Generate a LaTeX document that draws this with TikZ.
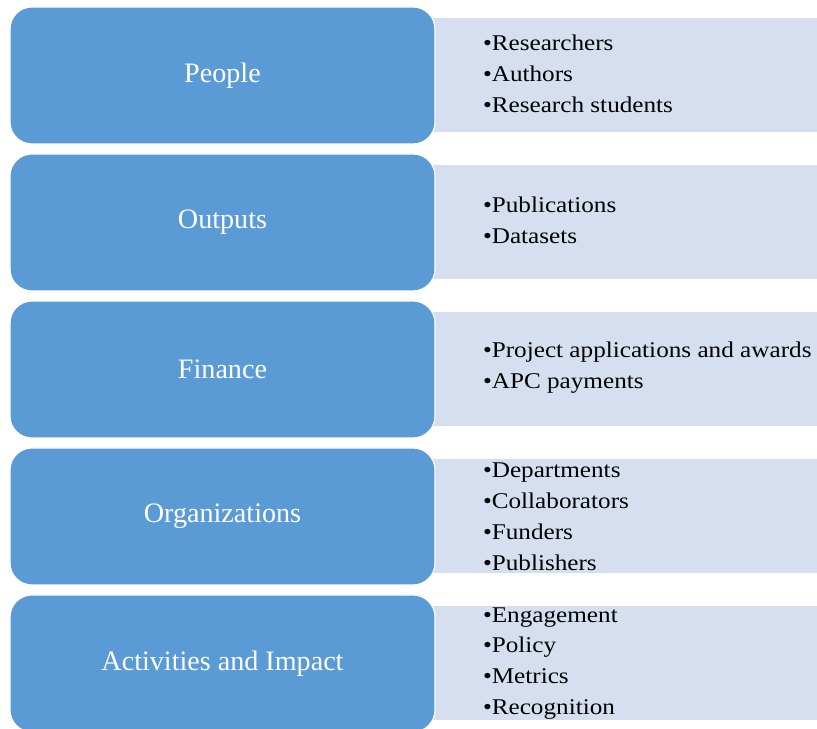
\documentclass[tikz,border=0pt]{standalone}
\usepackage{fontspec}
\setmainfont{Liberation Serif}
\newfontfamily\listfont[FakeStretch=1.12]{Liberation Serif}
\definecolor{catblue}{HTML}{5B9BD5}
\definecolor{listblue}{HTML}{D5DFEF}
\tikzset{
  catbox/.style={rectangle, rounded corners=0.55cm, fill=catblue, draw=white, line width=0.8pt,
    minimum width=10.625cm, minimum height=3.425cm, text=white, font=\fontsize{20}{24}\selectfont},
  listbox/.style={rectangle, fill=listblue, minimum width=9.675cm, minimum height=2.85cm, inner sep=0pt},
  listtext/.style={anchor=west, align=left, inner sep=0pt, font=\listfont\fontsize{16}{22}\selectfont},
}

\begin{document}
\begin{tikzpicture}
\useasboundingbox (0,0) rectangle (20.425,18.225);
% light list panels, drawn first so the blue boxes sit on top
\node[listbox] (people-bg) at (15.5875,16.3375) {};
\node[listbox] (outputs-bg) at (15.5875,12.6625) {};
\node[listbox] (finance-bg) at (15.5875,8.9875) {};
\node[listbox] (orgs-bg) at (15.5875,5.3125) {};
\node[listbox] (impact-bg) at (15.5875,1.6375) {};
% category boxes
\node[catbox] (people) at (5.5625,16.3375) {People};
\node[catbox] (outputs) at (5.5625,12.6625) {Outputs};
\node[catbox] (finance) at (5.5625,8.9875) {Finance};
\node[catbox] (orgs) at (5.5625,5.3125) {Organizations};
\node[catbox] (impact) at (5.5625,1.6375) {Activities and Impact};
% bullet lists
\node[listtext] (people-list) at ([xshift=1.325cm,yshift=0.05cm]people-bg.west) {•Researchers\\•Authors\\•Research students};
\node[listtext] (outputs-list) at ([xshift=1.325cm,yshift=0.05cm]outputs-bg.west) {•Publications\\•Datasets};
\node[listtext] (finance-list) at ([xshift=1.325cm,yshift=0.05cm]finance-bg.west) {•Project applications and awards\\•APC payments};
\node[listtext] (orgs-list) at ([xshift=1.325cm]orgs-bg.west) {•Departments\\•Collaborators\\•Funders\\•Publishers};
\node[listtext] (impact-list) at ([xshift=1.325cm]impact-bg.west) {•Engagement\\•Policy\\•Metrics\\•Recognition};
\end{tikzpicture}
\end{document}
